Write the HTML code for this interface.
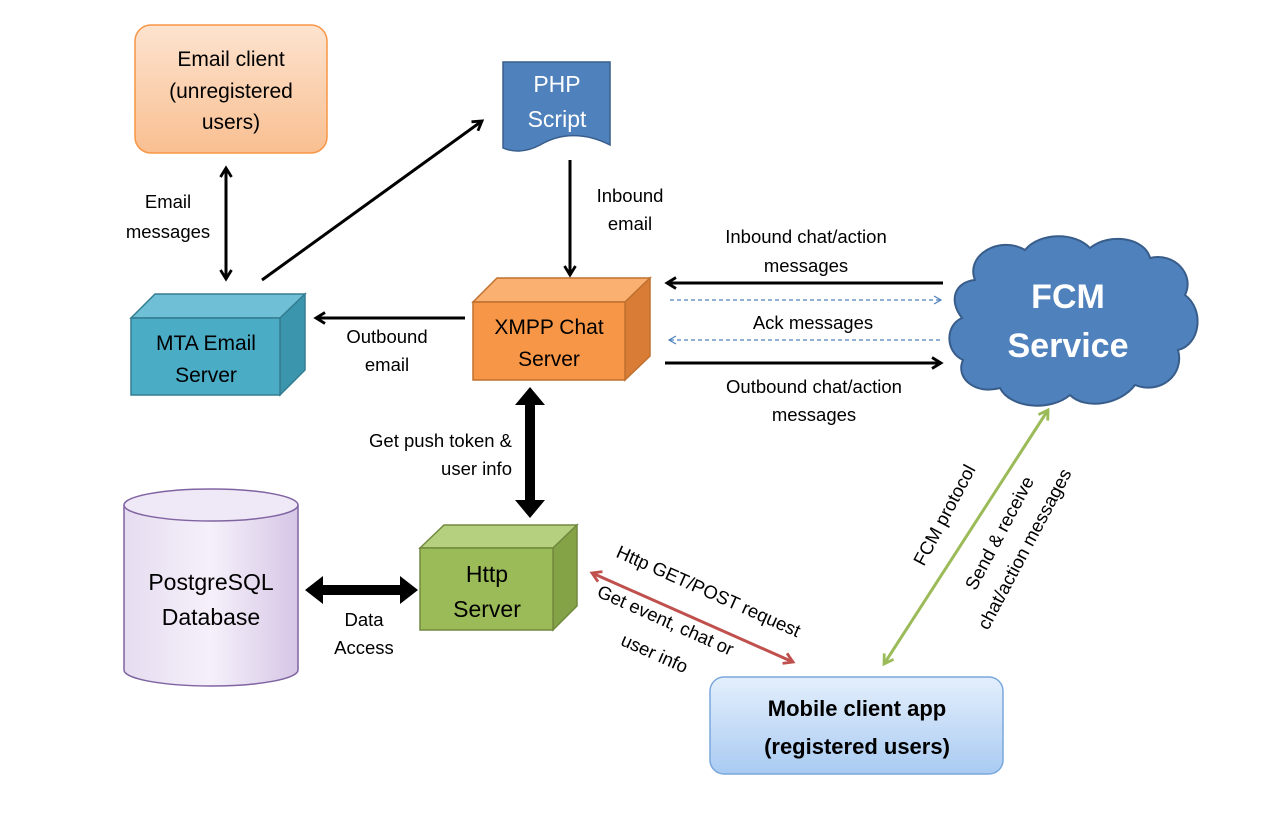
<!DOCTYPE html>
<html><head><meta charset="utf-8"><style>
html,body{margin:0;padding:0;background:#fff}
svg text{font-family:"Liberation Sans",sans-serif}
</style></head><body>
<svg width="1284" height="818" viewBox="0 0 1284 818" xmlns="http://www.w3.org/2000/svg">
<defs>
<linearGradient id="gE" x1="0" y1="0" x2="0" y2="1"><stop offset="0" stop-color="#fde3cf"/><stop offset="1" stop-color="#f9bf91"/></linearGradient>
<linearGradient id="gM" x1="0" y1="0" x2="0" y2="1"><stop offset="0" stop-color="#e4effc"/><stop offset="1" stop-color="#a9cbf2"/></linearGradient>
<linearGradient id="gP" x1="0" y1="0" x2="1" y2="0"><stop offset="0" stop-color="#e6dcf0"/><stop offset="0.5" stop-color="#f5f0fa"/><stop offset="1" stop-color="#d6c6e6"/></linearGradient>
<marker id="ah" markerWidth="14" markerHeight="14" refX="11" refY="7" orient="auto" markerUnits="userSpaceOnUse"><path d="M2,1.5 L11,7 L2,12.5" fill="none" stroke="#000" stroke-width="2.8"/></marker>
<marker id="ahs" markerWidth="14" markerHeight="14" refX="11" refY="7" orient="auto-start-reverse" markerUnits="userSpaceOnUse"><path d="M2,1.5 L11,7 L2,12.5" fill="none" stroke="#000" stroke-width="2.8"/></marker>
<marker id="ab" markerWidth="10" markerHeight="10" refX="8" refY="5" orient="auto" markerUnits="userSpaceOnUse"><path d="M1,1 L8,5 L1,9" fill="none" stroke="#4f81bd" stroke-width="1.2"/></marker>
<marker id="ar" markerWidth="14" markerHeight="14" refX="11" refY="7" orient="auto-start-reverse" markerUnits="userSpaceOnUse"><path d="M2,1.5 L11,7 L2,12.5" fill="none" stroke="#c0504d" stroke-width="2.8"/></marker>
<marker id="ag" markerWidth="14" markerHeight="14" refX="11" refY="7" orient="auto-start-reverse" markerUnits="userSpaceOnUse"><path d="M2,1.5 L11,7 L2,12.5" fill="none" stroke="#9bbb59" stroke-width="2.8"/></marker>
</defs>

<rect x="135" y="25" width="192" height="128" rx="16" fill="url(#gE)" stroke="#f79646" stroke-width="1.5"/>
<g font-size="21" text-anchor="middle" fill="#000">
<text x="231" y="66">Email client</text><text x="231" y="98">(unregistered</text><text x="231" y="129">users)</text></g>

<path d="M503,62 H610 V145 C585,132 560,133 540,145 C525,153 512,152 503,148 Z" fill="#4f81bd" stroke="#385d8a" stroke-width="1.5"/>
<g font-size="23" text-anchor="middle" fill="#fff"><text x="557" y="92">PHP</text><text x="557" y="127">Script</text></g>

<g stroke="#357d91" stroke-width="1.5">
<path d="M131,318 L155,294 L305,294 L280,318 Z" fill="#6fbfd6"/>
<path d="M280,318 L305,294 L305,370 L280,395 Z" fill="#3a95ad"/>
<rect x="131" y="318" width="149" height="77" fill="#4bacc6"/></g>
<g font-size="21" text-anchor="middle"><text x="206" y="350">MTA Email</text><text x="206" y="382">Server</text></g>

<g stroke="#c0702f" stroke-width="1.5">
<path d="M473,302 L497,278 L650,278 L625,302 Z" fill="#f9b070"/>
<path d="M625,302 L650,278 L650,356 L625,380 Z" fill="#d97c36"/>
<rect x="473" y="302" width="152" height="78" fill="#f79646"/></g>
<g font-size="21" text-anchor="middle"><text x="549" y="334">XMPP Chat</text><text x="549" y="366">Server</text></g>

<g stroke="#71893f" stroke-width="1.5">
<path d="M420,548 L444,525 L577,525 L553,548 Z" fill="#b5d07e"/>
<path d="M553,548 L577,525 L577,606 L553,630 Z" fill="#84a347"/>
<rect x="420" y="548" width="133" height="82" fill="#9bbb59"/></g>
<g font-size="23" text-anchor="middle"><text x="487" y="582">Http</text><text x="487" y="617">Server</text></g>

<path d="M124,505 V670 A87,16 0 0 0 298,670 V505" fill="url(#gP)" stroke="#8064a2" stroke-width="1.5"/>
<ellipse cx="211" cy="505" rx="87" ry="16" fill="#efe8f6" stroke="#8064a2" stroke-width="1.5"/>
<g font-size="23" text-anchor="middle"><text x="211" y="590">PostgreSQL</text><text x="211" y="625">Database</text></g>

<path d="M975,280 C965,255 1000,235 1025,250 C1040,232 1075,232 1090,248 C1110,232 1145,238 1150,258 C1175,252 1195,275 1185,295 C1205,310 1200,345 1178,350 C1185,375 1160,395 1135,385 C1120,405 1085,410 1070,395 C1050,412 1010,408 1000,388 C975,395 955,378 963,360 C945,352 945,325 962,318 C948,300 955,282 975,280 Z" fill="#4f81bd" stroke="#385d8a" stroke-width="2"/>
<g font-size="34" font-weight="bold" text-anchor="middle" fill="#fff"><text x="1068" y="308">FCM</text><text x="1068" y="357">Service</text></g>

<rect x="710" y="677" width="293" height="97" rx="14" fill="url(#gM)" stroke="#7aa7dc" stroke-width="1.5"/>
<g font-size="22" font-weight="bold" text-anchor="middle"><text x="857" y="716">Mobile client app</text><text x="857" y="754">(registered users)</text></g>

<g stroke="#000" stroke-width="3" fill="none">
<line x1="226" y1="168" x2="226" y2="279" marker-start="url(#ahs)" marker-end="url(#ah)"/>
<line x1="262" y1="280" x2="482" y2="121" marker-end="url(#ah)"/>
<line x1="570" y1="160" x2="570" y2="275" marker-end="url(#ah)"/>
<line x1="465" y1="318" x2="316" y2="318" marker-end="url(#ah)"/>
<line x1="943" y1="283" x2="667" y2="283" marker-end="url(#ah)"/>
<line x1="665" y1="363" x2="941" y2="363" marker-end="url(#ah)"/>
</g>
<g stroke="#4f81bd" stroke-width="1.2" stroke-dasharray="4,3" fill="none">
<line x1="670" y1="300" x2="941" y2="300" marker-end="url(#ab)"/>
<line x1="940" y1="340" x2="669" y2="340" marker-end="url(#ab)"/>
</g>
<path d="M530,387 L545,405 L535,405 L535,500 L545,500 L530,518 L515,500 L525,500 L525,405 L515,405 Z" fill="#000"/>
<path d="M305,590 L323,576 L323,585 L400,585 L400,576 L418,590 L400,604 L400,595 L323,595 L323,604 Z" fill="#000"/>
<line x1="592" y1="573" x2="793" y2="662" stroke="#c0504d" stroke-width="3" marker-start="url(#ar)" marker-end="url(#ar)"/>
<line x1="1048" y1="410" x2="884" y2="664" stroke="#9bbb59" stroke-width="3" marker-start="url(#ag)" marker-end="url(#ag)"/>

<g font-size="18.5" text-anchor="middle" fill="#000">
<text x="168" y="208">Email</text><text x="168" y="238">messages</text>
<text x="630" y="202">Inbound</text><text x="630" y="230">email</text>
<text x="387" y="343">Outbound</text><text x="387" y="371">email</text>
<text x="806" y="243">Inbound chat/action</text><text x="806" y="272">messages</text>
<text x="813" y="329">Ack messages</text>
<text x="814" y="393">Outbound chat/action</text><text x="814" y="421">messages</text>
<text x="512" y="447" text-anchor="end">Get push token &amp;</text><text x="512" y="475" text-anchor="end">user info</text>
<text x="364" y="626">Data</text><text x="364" y="654">Access</text>
<text transform="translate(706,597) rotate(24)">Http GET/POST request</text>
<text transform="translate(663,626) rotate(24)">Get event, chat or</text>
<text transform="translate(652,659) rotate(24)">user info</text>
<text transform="translate(950,518) rotate(-62)">FCM protocol</text>
<text transform="translate(1005,536) rotate(-62)">Send &amp; receive</text>
<text transform="translate(1030,552) rotate(-62)">chat/action messages</text>
</g>
</svg>
</body></html>
